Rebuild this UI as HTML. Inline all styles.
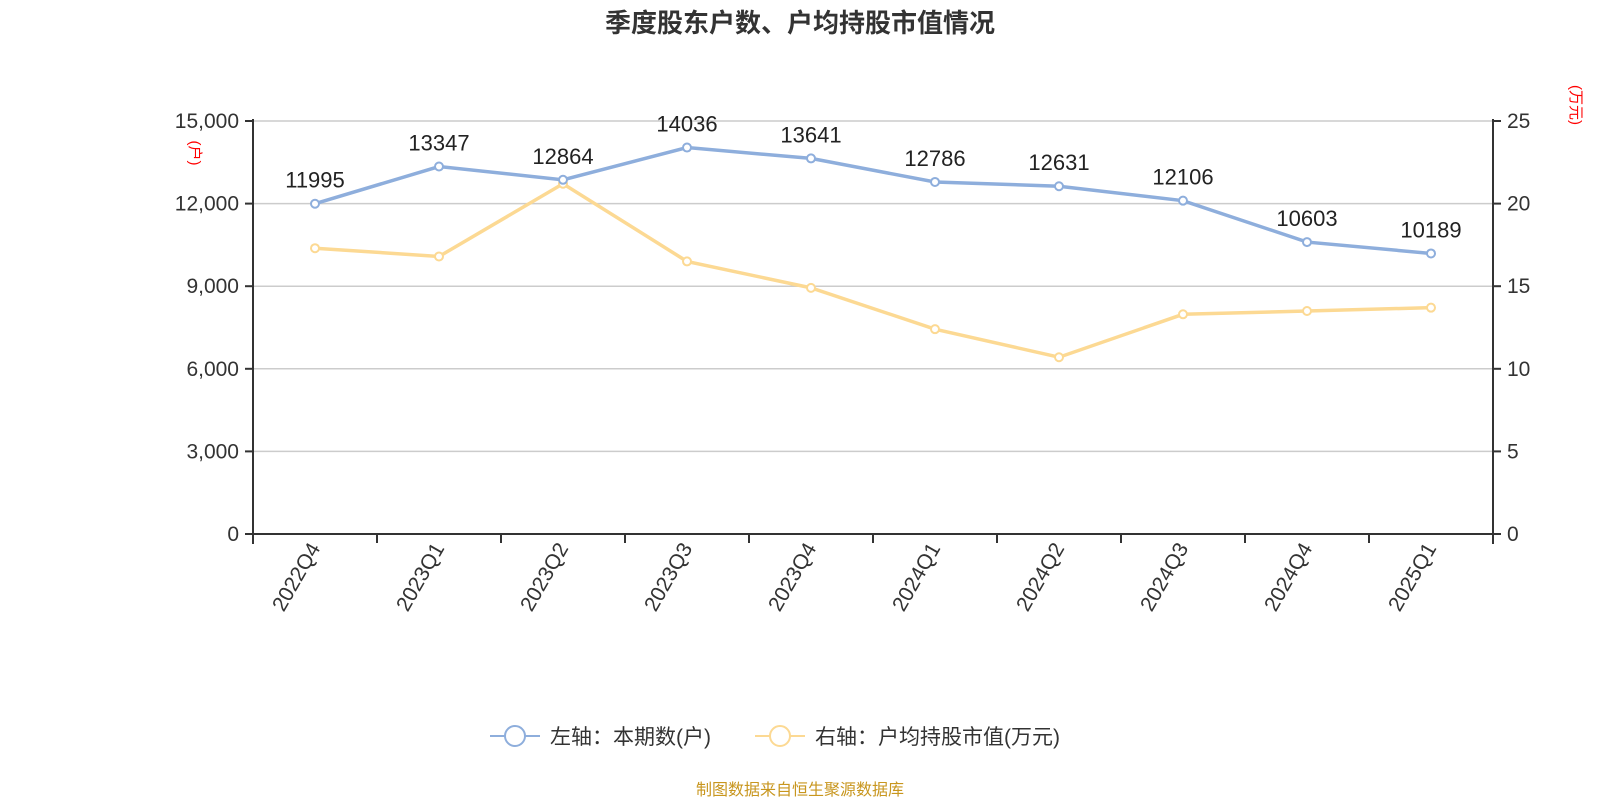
<!DOCTYPE html>
<html><head><meta charset="utf-8"><style>
body{margin:0;background:#fff;}
svg{display:block;font-family:"Liberation Sans","Noto Sans CJK SC",sans-serif;}
</style></head><body>
<svg id="chart" width="1600" height="800">
<text x="800" y="32" text-anchor="middle" font-size="26" font-weight="bold" fill="#333">季度股东户数、户均持股市值情况</text>
<g id="grid"></g><g id="axes"></g><g id="series"></g>
<text transform="translate(190,153) rotate(90)" text-anchor="middle" font-size="15" fill="red">(户)</text>
<text transform="translate(1571,105) rotate(90)" text-anchor="middle" font-size="15" fill="red">(万元)</text>
<g>
<g>
<line x1="490" y1="736" x2="540" y2="736" stroke="#8eaedc" stroke-width="2"/>
<circle cx="515" cy="736" r="10" fill="#fff" stroke="#8eaedc" stroke-width="2"/>
<text x="550" y="744" font-size="21" fill="#333">左轴：本期数(户)</text></g>
<g>
<line x1="755" y1="736" x2="805" y2="736" stroke="#fcd993" stroke-width="2"/>
<circle cx="780" cy="736" r="10" fill="#fff" stroke="#fcd993" stroke-width="2"/>
<text x="815" y="744" font-size="21" fill="#333">右轴：户均持股市值(万元)</text></g>
</g>
<text x="800" y="795" text-anchor="middle" font-size="16" fill="#c8961e">制图数据来自恒生聚源数据库</text>
</svg>
<script>
const categories=["2022Q4","2023Q1","2023Q2","2023Q3","2023Q4","2024Q1","2024Q2","2024Q3","2024Q4","2025Q1"];
const holders=[11995,13347,12864,14036,13641,12786,12631,12106,10603,10189];
const avgValue=[17.3,16.8,21.2,16.5,14.9,12.4,10.7,13.3,13.5,13.7];
const leftTicks=[0,3000,6000,9000,12000,15000];
const rightTicks=[0,5,10,15,20,25];
const NS="http://www.w3.org/2000/svg";
const L=253,R=1493,T=121,B=534;
const bw=(R-L)/categories.length;
const xs=i=>L+bw*(i+0.5);
const yl=v=>B-(v/15000)*(B-T);
const yr=v=>B-(v/25)*(B-T);
function mk(tag,attrs,parent,txt){const e=document.createElementNS(NS,tag);for(const k in attrs)e.setAttribute(k,attrs[k]);if(txt!==undefined)e.textContent=txt;parent.appendChild(e);return e;}
const grid=document.getElementById('grid'),axes=document.getElementById('axes'),ser=document.getElementById('series');
leftTicks.forEach((v,i)=>{
 if(v>0){const g=mk('line',{x1:L,x2:R,y1:yl(v),y2:yl(v),stroke:'#ccc','stroke-width':1.5},grid);
 
 }
 mk('line',{x1:L-8,x2:L,y1:yl(v),y2:yl(v),stroke:'#333','stroke-width':2},axes);
 const t=mk('text',{x:L-14,y:yl(v)+7,'text-anchor':'end','font-size':21,fill:'#333'},axes,v.toLocaleString('en-US'));
 
 
});
rightTicks.forEach(v=>{
 mk('line',{x1:R,x2:R+8,y1:yr(v),y2:yr(v),stroke:'#333','stroke-width':2},axes);
 const t=mk('text',{x:R+14,y:yr(v)+7,'font-size':21,fill:'#333'},axes,String(v));
 
 
});
mk('line',{x1:L,x2:L,y1:T-2,y2:B+10,stroke:'#333','stroke-width':2},axes);
mk('line',{x1:R,x2:R,y1:T-2,y2:B+10,stroke:'#333','stroke-width':2},axes);
mk('line',{x1:L,x2:R,y1:B,y2:B,stroke:'#333','stroke-width':2},axes);
for(let i=0;i<=categories.length;i++)mk('line',{x1:L+bw*i,x2:L+bw*i,y1:B,y2:B+9,stroke:'#333','stroke-width':2},axes);
categories.forEach((c,i)=>{
 const t=mk('text',{transform:`translate(${xs(i)+6},${B+14}) rotate(-60)`,'text-anchor':'end','font-size':21,fill:'#333'},axes,c);
 
 
});
function line(vals,yf,color,name,labels){
 const p=mk('polyline',{points:vals.map((v,i)=>xs(i)+','+yf(v)).join(' '),fill:'none',stroke:color,'stroke-width':3.5},ser);
 
 
 vals.forEach((v,i)=>{
  const c=mk('circle',{cx:xs(i),cy:yf(v),r:4,fill:'#fff',stroke:color,'stroke-width':2},ser);
  
  
  if(labels){const t=mk('text',{x:xs(i),y:yf(v)-16,'text-anchor':'middle','font-size':22,fill:'#222'},ser,String(v));
  
  }
 });
}
line(avgValue,yr,'#fcd993','avg-value',false);
line(holders,yl,'#8eaedc','holders',true);
</script>
</body></html>
